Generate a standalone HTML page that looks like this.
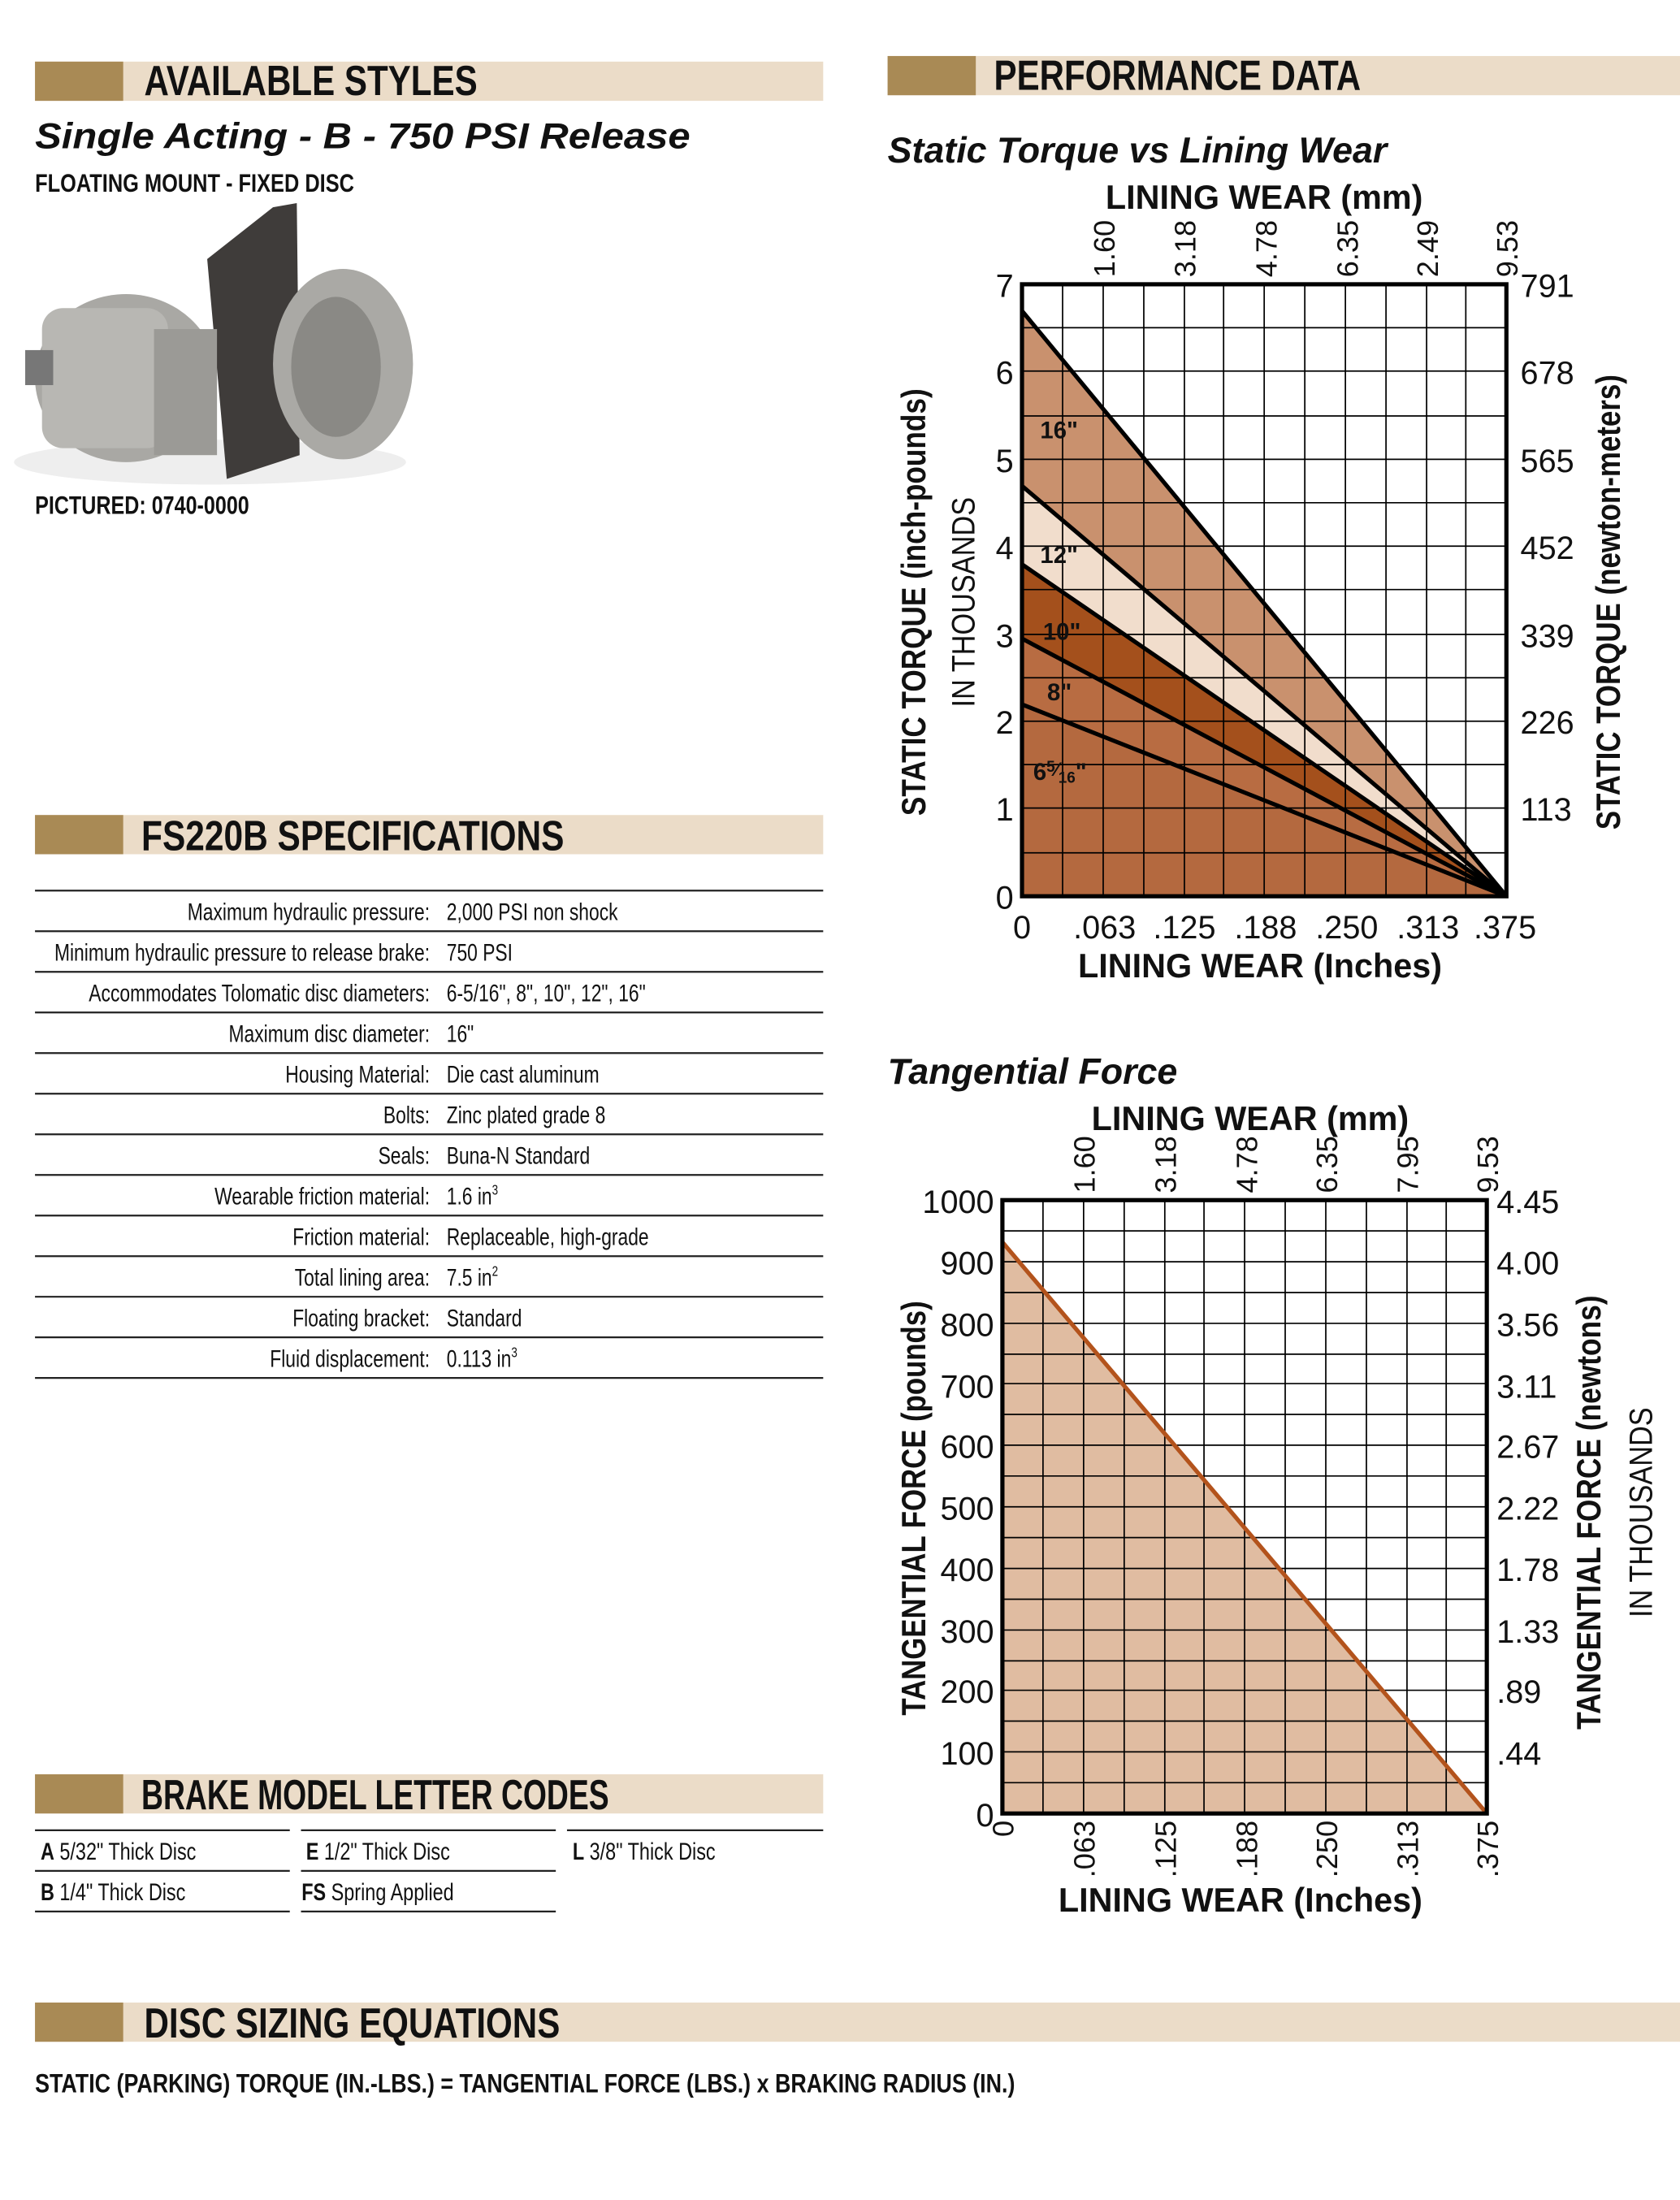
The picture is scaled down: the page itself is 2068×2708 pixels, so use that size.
<!DOCTYPE html>
<html><head><meta charset="utf-8"><style>
html,body{margin:0;padding:0;background:#fff;}
svg{display:block;}
text{font-family:"Liberation Sans Narrow","Liberation Sans",sans-serif;fill:#111;}
.h{font-weight:bold;font-size:30px;}
.sp{font-size:17px;}
.ax{font-family:"Liberation Sans",sans-serif;font-size:23px;}
.at{font-family:"Liberation Sans",sans-serif;font-weight:bold;font-size:24px;}
</style></head><body>
<svg width="2068" height="2708" viewBox="0 0 1200 1571" preserveAspectRatio="none" xmlns="http://www.w3.org/2000/svg">
<rect width="1200" height="1571" fill="#fff"/>
<!-- brake picture -->
<g>
<ellipse cx="150" cy="330" rx="140" ry="16" fill="#eee"/>
<polygon points="148,185 195,148 212,145 214,325 162,342" fill="#3f3c3a"/>
<ellipse cx="90" cy="270" rx="65" ry="60" fill="#a9a8a4"/>
<rect x="30" y="220" width="90" height="100" rx="15" fill="#b8b7b3"/>
<rect x="18" y="250" width="20" height="25" fill="#777"/>
<ellipse cx="245" cy="260" rx="50" ry="68" fill="#aaa9a5"/>
<ellipse cx="240" cy="262" rx="32" ry="50" fill="#8a8985"/>
<rect x="110" y="235" width="45" height="90" fill="#9b9a96"/>
</g>
<!-- header bars -->
<g>
<rect x="25" y="44" width="563" height="28" fill="#ebdcc8"/><rect x="25" y="44" width="63" height="28" fill="#a98a55"/>
<text class="h" x="103" y="68" textLength="238" lengthAdjust="spacingAndGlyphs">AVAILABLE STYLES</text>
<rect x="634" y="40" width="566" height="28" fill="#ebdcc8"/><rect x="634" y="40" width="63" height="28" fill="#a98a55"/>
<text class="h" x="710" y="64" textLength="262" lengthAdjust="spacingAndGlyphs">PERFORMANCE DATA</text>
<rect x="25" y="582" width="563" height="28" fill="#ebdcc8"/><rect x="25" y="582" width="63" height="28" fill="#a98a55"/>
<text class="h" x="101" y="607" textLength="302" lengthAdjust="spacingAndGlyphs">FS220B SPECIFICATIONS</text>
<rect x="25" y="1267" width="563" height="28" fill="#ebdcc8"/><rect x="25" y="1267" width="63" height="28" fill="#a98a55"/>
<text class="h" x="101" y="1292" textLength="334" lengthAdjust="spacingAndGlyphs">BRAKE MODEL LETTER CODES</text>
<rect x="25" y="1430" width="1175" height="28" fill="#ebdcc8"/><rect x="25" y="1430" width="63" height="28" fill="#a98a55"/>
<text class="h" x="103" y="1455" textLength="297" lengthAdjust="spacingAndGlyphs">DISC SIZING EQUATIONS</text>
</g>
<text x="25" y="106" style="font-family:'Liberation Sans',sans-serif;font-style:italic;font-weight:bold;font-size:26px" textLength="468" lengthAdjust="spacingAndGlyphs">Single Acting -  B - 750 PSI Release</text>
<rect x="22" y="118" width="240" height="24" fill="#fff"/>
<text x="25" y="137" style="font-weight:bold;font-size:18px" textLength="228" lengthAdjust="spacingAndGlyphs">FLOATING MOUNT - FIXED DISC</text>
<text x="25" y="367" style="font-weight:bold;font-size:18px" textLength="153" lengthAdjust="spacingAndGlyphs">PICTURED: 0740-0000</text>
<!-- spec table -->
<g stroke="#222" stroke-width="1.3">
<line x1="25" y1="636" x2="588" y2="636"/><line x1="25" y1="665" x2="588" y2="665"/><line x1="25" y1="694" x2="588" y2="694"/><line x1="25" y1="723" x2="588" y2="723"/><line x1="25" y1="752" x2="588" y2="752"/><line x1="25" y1="781" x2="588" y2="781"/><line x1="25" y1="810" x2="588" y2="810"/><line x1="25" y1="839" x2="588" y2="839"/><line x1="25" y1="868" x2="588" y2="868"/><line x1="25" y1="897" x2="588" y2="897"/><line x1="25" y1="926" x2="588" y2="926"/><line x1="25" y1="955" x2="588" y2="955"/><line x1="25" y1="984" x2="588" y2="984"/>
</g>
<g transform="translate(307,0) scale(0.78,1) translate(-307,0)" text-anchor="end">
<text class="sp" x="307" y="657">Maximum hydraulic pressure:</text>
<text class="sp" x="307" y="686">Minimum hydraulic pressure to release brake:</text>
<text class="sp" x="307" y="715">Accommodates Tolomatic disc diameters:</text>
<text class="sp" x="307" y="744">Maximum disc diameter:</text>
<text class="sp" x="307" y="773">Housing Material:</text>
<text class="sp" x="307" y="802">Bolts:</text>
<text class="sp" x="307" y="831">Seals:</text>
<text class="sp" x="307" y="860">Wearable friction material:</text>
<text class="sp" x="307" y="889">Friction material:</text>
<text class="sp" x="307" y="918">Total lining area:</text>
<text class="sp" x="307" y="947">Floating bracket:</text>
<text class="sp" x="307" y="976">Fluid displacement:</text>
</g>
<g transform="translate(319,0) scale(0.78,1) translate(-319,0)">
<text class="sp" x="319" y="657">2,000 PSI non shock</text>
<text class="sp" x="319" y="686">750 PSI</text>
<text class="sp" x="319" y="715">6-5/16", 8", 10", 12", 16"</text>
<text class="sp" x="319" y="744">16"</text>
<text class="sp" x="319" y="773">Die cast aluminum</text>
<text class="sp" x="319" y="802">Zinc plated grade 8</text>
<text class="sp" x="319" y="831">Buna-N Standard</text>
<text class="sp" x="319" y="860">1.6 in<tspan font-size="10" dy="-7">3</tspan></text>
<text class="sp" x="319" y="889">Replaceable, high-grade</text>
<text class="sp" x="319" y="918">7.5 in<tspan font-size="10" dy="-7">2</tspan></text>
<text class="sp" x="319" y="947">Standard</text>
<text class="sp" x="319" y="976">0.113 in<tspan font-size="10" dy="-7">3</tspan></text>
</g>
<!-- letter codes -->
<g stroke="#222" stroke-width="1.3">
<line x1="25" y1="1307" x2="207" y2="1307"/><line x1="215" y1="1307" x2="397" y2="1307"/><line x1="405" y1="1307" x2="588" y2="1307"/>
<line x1="25" y1="1336" x2="207" y2="1336"/><line x1="215" y1="1336" x2="397" y2="1336"/>
<line x1="25" y1="1365" x2="207" y2="1365"/><line x1="215" y1="1365" x2="397" y2="1365"/>
</g>
<g transform="translate(29,0) scale(0.8,1) translate(-29,0)"><text class="sp" x="29" y="1328" font-size="18"><tspan font-weight="bold">A</tspan> 5/32" Thick Disc</text>
<text class="sp" x="29" y="1357" font-size="18"><tspan font-weight="bold">B</tspan> 1/4" Thick Disc</text></g>
<g transform="translate(217,0) scale(0.8,1) translate(-217,0)"><text class="sp" x="219" y="1328" font-size="18"><tspan font-weight="bold">E</tspan> 1/2" Thick Disc</text>
<text class="sp" x="215" y="1357" font-size="18"><tspan font-weight="bold">FS</tspan> Spring Applied</text></g>
<g transform="translate(409,0) scale(0.8,1) translate(-409,0)"><text class="sp" x="409" y="1328" font-size="18"><tspan font-weight="bold">L</tspan> 3/8" Thick Disc</text></g>
<text x="25" y="1494" style="font-weight:bold;font-size:19px" textLength="700" lengthAdjust="spacingAndGlyphs">STATIC (PARKING) TORQUE (IN.-LBS.) = TANGENTIAL FORCE (LBS.) x BRAKING RADIUS (IN.)</text>

<!-- CHART 1 -->
<text x="634" y="116" style="font-family:'Liberation Sans',sans-serif;font-style:italic;font-weight:bold;font-size:26px">Static Torque vs Lining Wear</text>
<text class="at" x="903" y="149" text-anchor="middle">LINING WEAR (mm)</text>
<polygon points="730,503 1076,640 730,640" fill="#b4693f"/>
<polygon points="730,456 1076,640 730,503" fill="#b86c42"/>
<polygon points="730,403 1076,640 730,456" fill="#a4501c"/>
<polygon points="730,347 1076,640 730,403" fill="#f1ddcc"/>
<polygon points="730,222 1076,640 730,347" fill="#c9916e"/>
<g stroke="#000" stroke-width="1">
<line x1="759" y1="203" x2="759" y2="640"/><line x1="788" y1="203" x2="788" y2="640"/><line x1="817" y1="203" x2="817" y2="640"/><line x1="846" y1="203" x2="846" y2="640"/><line x1="874" y1="203" x2="874" y2="640"/><line x1="903" y1="203" x2="903" y2="640"/><line x1="932" y1="203" x2="932" y2="640"/><line x1="961" y1="203" x2="961" y2="640"/><line x1="990" y1="203" x2="990" y2="640"/><line x1="1019" y1="203" x2="1019" y2="640"/><line x1="1047" y1="203" x2="1047" y2="640"/>
<line x1="730" y1="234" x2="1076" y2="234"/><line x1="730" y1="265" x2="1076" y2="265"/><line x1="730" y1="297" x2="1076" y2="297"/><line x1="730" y1="328" x2="1076" y2="328"/><line x1="730" y1="359" x2="1076" y2="359"/><line x1="730" y1="390" x2="1076" y2="390"/><line x1="730" y1="421" x2="1076" y2="421"/><line x1="730" y1="453" x2="1076" y2="453"/><line x1="730" y1="484" x2="1076" y2="484"/><line x1="730" y1="515" x2="1076" y2="515"/><line x1="730" y1="546" x2="1076" y2="546"/><line x1="730" y1="577" x2="1076" y2="577"/><line x1="730" y1="609" x2="1076" y2="609"/>
</g>
<g stroke="#000" stroke-width="3" fill="none">
<line x1="730" y1="222" x2="1076" y2="640"/><line x1="730" y1="347" x2="1076" y2="640"/><line x1="730" y1="403" x2="1076" y2="640"/><line x1="730" y1="456" x2="1076" y2="640"/><line x1="730" y1="503" x2="1076" y2="640"/>
<rect x="730" y="203" width="346" height="437"/>
</g>
<g style="font-family:'Liberation Sans',sans-serif;font-weight:bold;font-size:17px">
<text x="743" y="313">16"</text><text x="743" y="402">12"</text><text x="745" y="457">10"</text><text x="748" y="500">8"</text><text x="738" y="557">6<tspan font-size="11" dy="-6">5</tspan><tspan font-size="14" dy="3">⁄</tspan><tspan font-size="11" dy="5">16</tspan><tspan dy="-2">"</tspan></text>
</g>
<g class="ax" text-anchor="end">
<text x="724" y="212">7</text><text x="724" y="274">6</text><text x="724" y="337">5</text><text x="724" y="399">4</text><text x="724" y="462">3</text><text x="724" y="524">2</text><text x="724" y="586">1</text><text x="724" y="649">0</text>
</g>
<g class="ax">
<text x="1086" y="212">791</text><text x="1086" y="274">678</text><text x="1086" y="337">565</text><text x="1086" y="399">452</text><text x="1086" y="462">339</text><text x="1086" y="524">226</text><text x="1086" y="586">113</text>
</g>
<g class="ax" text-anchor="middle">
<text x="730" y="670">0</text><text x="789" y="670">.063</text><text x="846" y="670">.125</text><text x="904" y="670">.188</text><text x="962" y="670">.250</text><text x="1020" y="670">.313</text><text x="1075" y="670">.375</text>
</g>
<g class="ax" style="font-size:21px">
<text transform="translate(796,198) rotate(-90)">1.60</text>
<text transform="translate(854,198) rotate(-90)">3.18</text>
<text transform="translate(912,198) rotate(-90)">4.78</text>
<text transform="translate(970,198) rotate(-90)">6.35</text>
<text transform="translate(1027,198) rotate(-90)">2.49</text>
<text transform="translate(1084,198) rotate(-90)">9.53</text>
</g>
<text class="at" x="900" y="698" text-anchor="middle">LINING WEAR (Inches)</text>
<text class="at" transform="translate(661,430) rotate(-90)" text-anchor="middle" textLength="305" lengthAdjust="spacingAndGlyphs">STATIC TORQUE (inch-pounds)</text>
<text class="ax" transform="translate(696,430) rotate(-90)" text-anchor="middle" textLength="150" lengthAdjust="spacingAndGlyphs">IN THOUSANDS</text>
<text class="at" transform="translate(1157,430) rotate(-90)" text-anchor="middle" textLength="325" lengthAdjust="spacingAndGlyphs">STATIC TORQUE (newton-meters)</text>

<!-- CHART 2 -->
<text x="634" y="774" style="font-family:'Liberation Sans',sans-serif;font-style:italic;font-weight:bold;font-size:26px">Tangential Force</text>
<text class="at" x="893" y="807" text-anchor="middle">LINING WEAR (mm)</text>
<polygon points="716,887 1062,1295 716,1295" fill="#e0bca1"/>
<g stroke="#000" stroke-width="1">
<line x1="745" y1="857" x2="745" y2="1295"/><line x1="774" y1="857" x2="774" y2="1295"/><line x1="803" y1="857" x2="803" y2="1295"/><line x1="832" y1="857" x2="832" y2="1295"/><line x1="860" y1="857" x2="860" y2="1295"/><line x1="889" y1="857" x2="889" y2="1295"/><line x1="918" y1="857" x2="918" y2="1295"/><line x1="947" y1="857" x2="947" y2="1295"/><line x1="976" y1="857" x2="976" y2="1295"/><line x1="1005" y1="857" x2="1005" y2="1295"/><line x1="1033" y1="857" x2="1033" y2="1295"/>
<line x1="716" y1="879" x2="1062" y2="879"/><line x1="716" y1="901" x2="1062" y2="901"/><line x1="716" y1="923" x2="1062" y2="923"/><line x1="716" y1="945" x2="1062" y2="945"/><line x1="716" y1="967" x2="1062" y2="967"/><line x1="716" y1="988" x2="1062" y2="988"/><line x1="716" y1="1010" x2="1062" y2="1010"/><line x1="716" y1="1032" x2="1062" y2="1032"/><line x1="716" y1="1054" x2="1062" y2="1054"/><line x1="716" y1="1076" x2="1062" y2="1076"/><line x1="716" y1="1098" x2="1062" y2="1098"/><line x1="716" y1="1120" x2="1062" y2="1120"/><line x1="716" y1="1142" x2="1062" y2="1142"/><line x1="716" y1="1164" x2="1062" y2="1164"/><line x1="716" y1="1186" x2="1062" y2="1186"/><line x1="716" y1="1207" x2="1062" y2="1207"/><line x1="716" y1="1229" x2="1062" y2="1229"/><line x1="716" y1="1251" x2="1062" y2="1251"/><line x1="716" y1="1273" x2="1062" y2="1273"/>
</g>
<line x1="716" y1="887" x2="1062" y2="1295" stroke="#b3531c" stroke-width="3"/>
<rect x="716" y="857" width="346" height="438" fill="none" stroke="#000" stroke-width="3"/>
<g class="ax" text-anchor="end">
<text x="710" y="866">1000</text><text x="710" y="910">900</text><text x="710" y="954">800</text><text x="710" y="998">700</text><text x="710" y="1041">600</text><text x="710" y="1085">500</text><text x="710" y="1129">400</text><text x="710" y="1173">300</text><text x="710" y="1216">200</text><text x="710" y="1260">100</text><text x="710" y="1304">0</text>
</g>
<g class="ax">
<text x="1069" y="866">4.45</text><text x="1069" y="910">4.00</text><text x="1069" y="954">3.56</text><text x="1069" y="998">3.11</text><text x="1069" y="1041">2.67</text><text x="1069" y="1085">2.22</text><text x="1069" y="1129">1.78</text><text x="1069" y="1173">1.33</text><text x="1069" y="1216">.89</text><text x="1069" y="1260">.44</text>
</g>
<g class="ax" style="font-size:21px">
<text transform="translate(782,852) rotate(-90)">1.60</text>
<text transform="translate(840,852) rotate(-90)">3.18</text>
<text transform="translate(898,852) rotate(-90)">4.78</text>
<text transform="translate(955,852) rotate(-90)">6.35</text>
<text transform="translate(1013,852) rotate(-90)">7.95</text>
<text transform="translate(1070,852) rotate(-90)">9.53</text>
</g>
<g class="ax" style="font-size:21px" text-anchor="end">
<text transform="translate(724,1300) rotate(-90)">0</text>
<text transform="translate(782,1300) rotate(-90)">.063</text>
<text transform="translate(840,1300) rotate(-90)">.125</text>
<text transform="translate(898,1300) rotate(-90)">.188</text>
<text transform="translate(955,1300) rotate(-90)">.250</text>
<text transform="translate(1013,1300) rotate(-90)">.313</text>
<text transform="translate(1070,1300) rotate(-90)">.375</text>
</g>
<text class="at" x="886" y="1365" text-anchor="middle">LINING WEAR (Inches)</text>
<text class="at" transform="translate(661,1077) rotate(-90)" text-anchor="middle" textLength="296" lengthAdjust="spacingAndGlyphs">TANGENTIAL FORCE (pounds)</text>
<text class="at" transform="translate(1143,1080) rotate(-90)" text-anchor="middle" textLength="310" lengthAdjust="spacingAndGlyphs">TANGENTIAL FORCE (newtons)</text>
<text class="ax" transform="translate(1180,1080) rotate(-90)" text-anchor="middle" textLength="150" lengthAdjust="spacingAndGlyphs">IN THOUSANDS</text>
</svg>
</body></html>
